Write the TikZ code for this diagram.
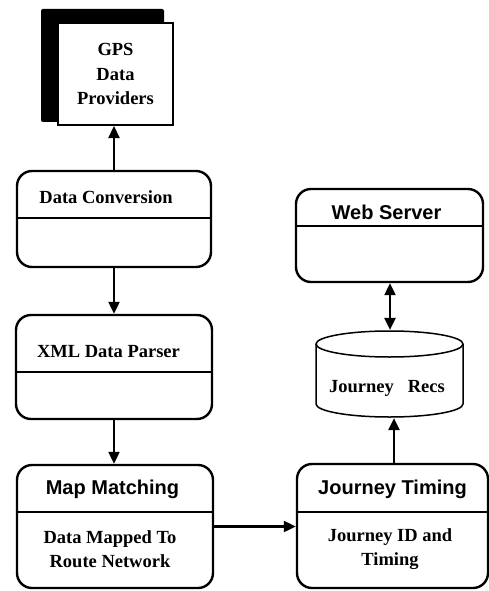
\documentclass[tikz,border=0pt]{standalone}
\usepackage{fontspec}
\setmainfont{Liberation Serif}
\setsansfont{Liberation Sans}
\usetikzlibrary{arrows.meta}

\begin{document}
\begin{tikzpicture}[x=1pt,y=-1pt,->,>={Triangle[length=12pt,width=11pt]},line width=2.2pt,
    proc node/.style={draw,rounded corners=15pt,line width=2.4pt,inner sep=0pt},
    head text/.style={font=\sffamily\bfseries\fontsize{20}{24}\selectfont,anchor=base},
    body text/.style={font=\bfseries\fontsize{18.5}{24.5}\selectfont,align=center},
    split line/.style={-,line width=1.2pt}]

  \useasboundingbox (0,0) rectangle (489,591);

  % data source with its shadow
  \fill[rounded corners=2pt] (41,9) rectangle (164,122);
  \node[draw,fill=white,line width=2pt,minimum width=115pt,minimum height=102pt,body text] (gps) at (115.5,74) {GPS\\Data\\Providers};

  % processing boxes
  \node[proc node,minimum width=194pt,minimum height=96pt] (conv) at (114,219) {};
  \node[proc node,minimum width=196pt,minimum height=104pt] (parser) at (114,367) {};
  \node[proc node,minimum width=196pt,minimum height=123pt] (mapm) at (115,526.5) {};
  \node[proc node,minimum width=191pt,minimum height=124pt] (jtime) at (392.5,526) {};
  \node[proc node,minimum width=187pt,minimum height=93pt] (web) at (389.5,235.5) {};

  \draw[split line] (conv.west |- 0,218) -- (conv.east |- 0,218);
  \draw[split line] (parser.west |- 0,372) -- (parser.east |- 0,372);
  \draw[split line] (mapm.west |- 0,512) -- (mapm.east |- 0,512);
  \draw[split line] (jtime.west |- 0,512) -- (jtime.east |- 0,512);
  \draw[split line] (web.west |- 0,226) -- (web.east |- 0,226);

  \node[body text,anchor=base] (convtxt) at (106,203) {Data Conversion};
  \node[body text,anchor=base] (parsertxt) at (108.5,357) {XML Data Parser};
  \node[head text] (mapmtxt) at (112.5,494) {Map Matching};
  \node[body text] (mapmbody) at (110,549) {Data Mapped To\\Route Network};
  \node[head text] (jtimetxt) at (392.5,494) {Journey Timing};
  \node[body text] (jtimebody) at (390,549) {Journey ID and\\Timing};
  \node[head text] (webtxt) at (386.5,219) {Web Server};

  % journey store
  \node[minimum width=147pt,minimum height=86pt,inner sep=0pt] (recs) at (389.5,374) {};
  \draw[-,line width=1.5pt] (389.5,344) ellipse [x radius=73.5,y radius=13];
  \draw[-,line width=1.5pt] (316,344) -- (316,404) arc[start angle=180,end angle=0,x radius=73.5,y radius=13] -- (463,344);
  \node[body text,anchor=base] (recstxt) at (387,392) {Journey~~~Recs};

  % connections
  \draw (conv.north) -- (conv.north |- gps.south);
  \draw (conv.south) -- (conv.south |- parser.north);
  \draw (parser.south) -- (parser.south |- mapm.north);
  \draw (mapm.east) -- (mapm.east -| jtime.west);
  \draw (jtime.north -| 394,0) -- (recs.south -| 394,0);
  \draw[<->] (web.south -| 390,0) -- (recs.north -| 390,0);

\end{tikzpicture}
\end{document}
